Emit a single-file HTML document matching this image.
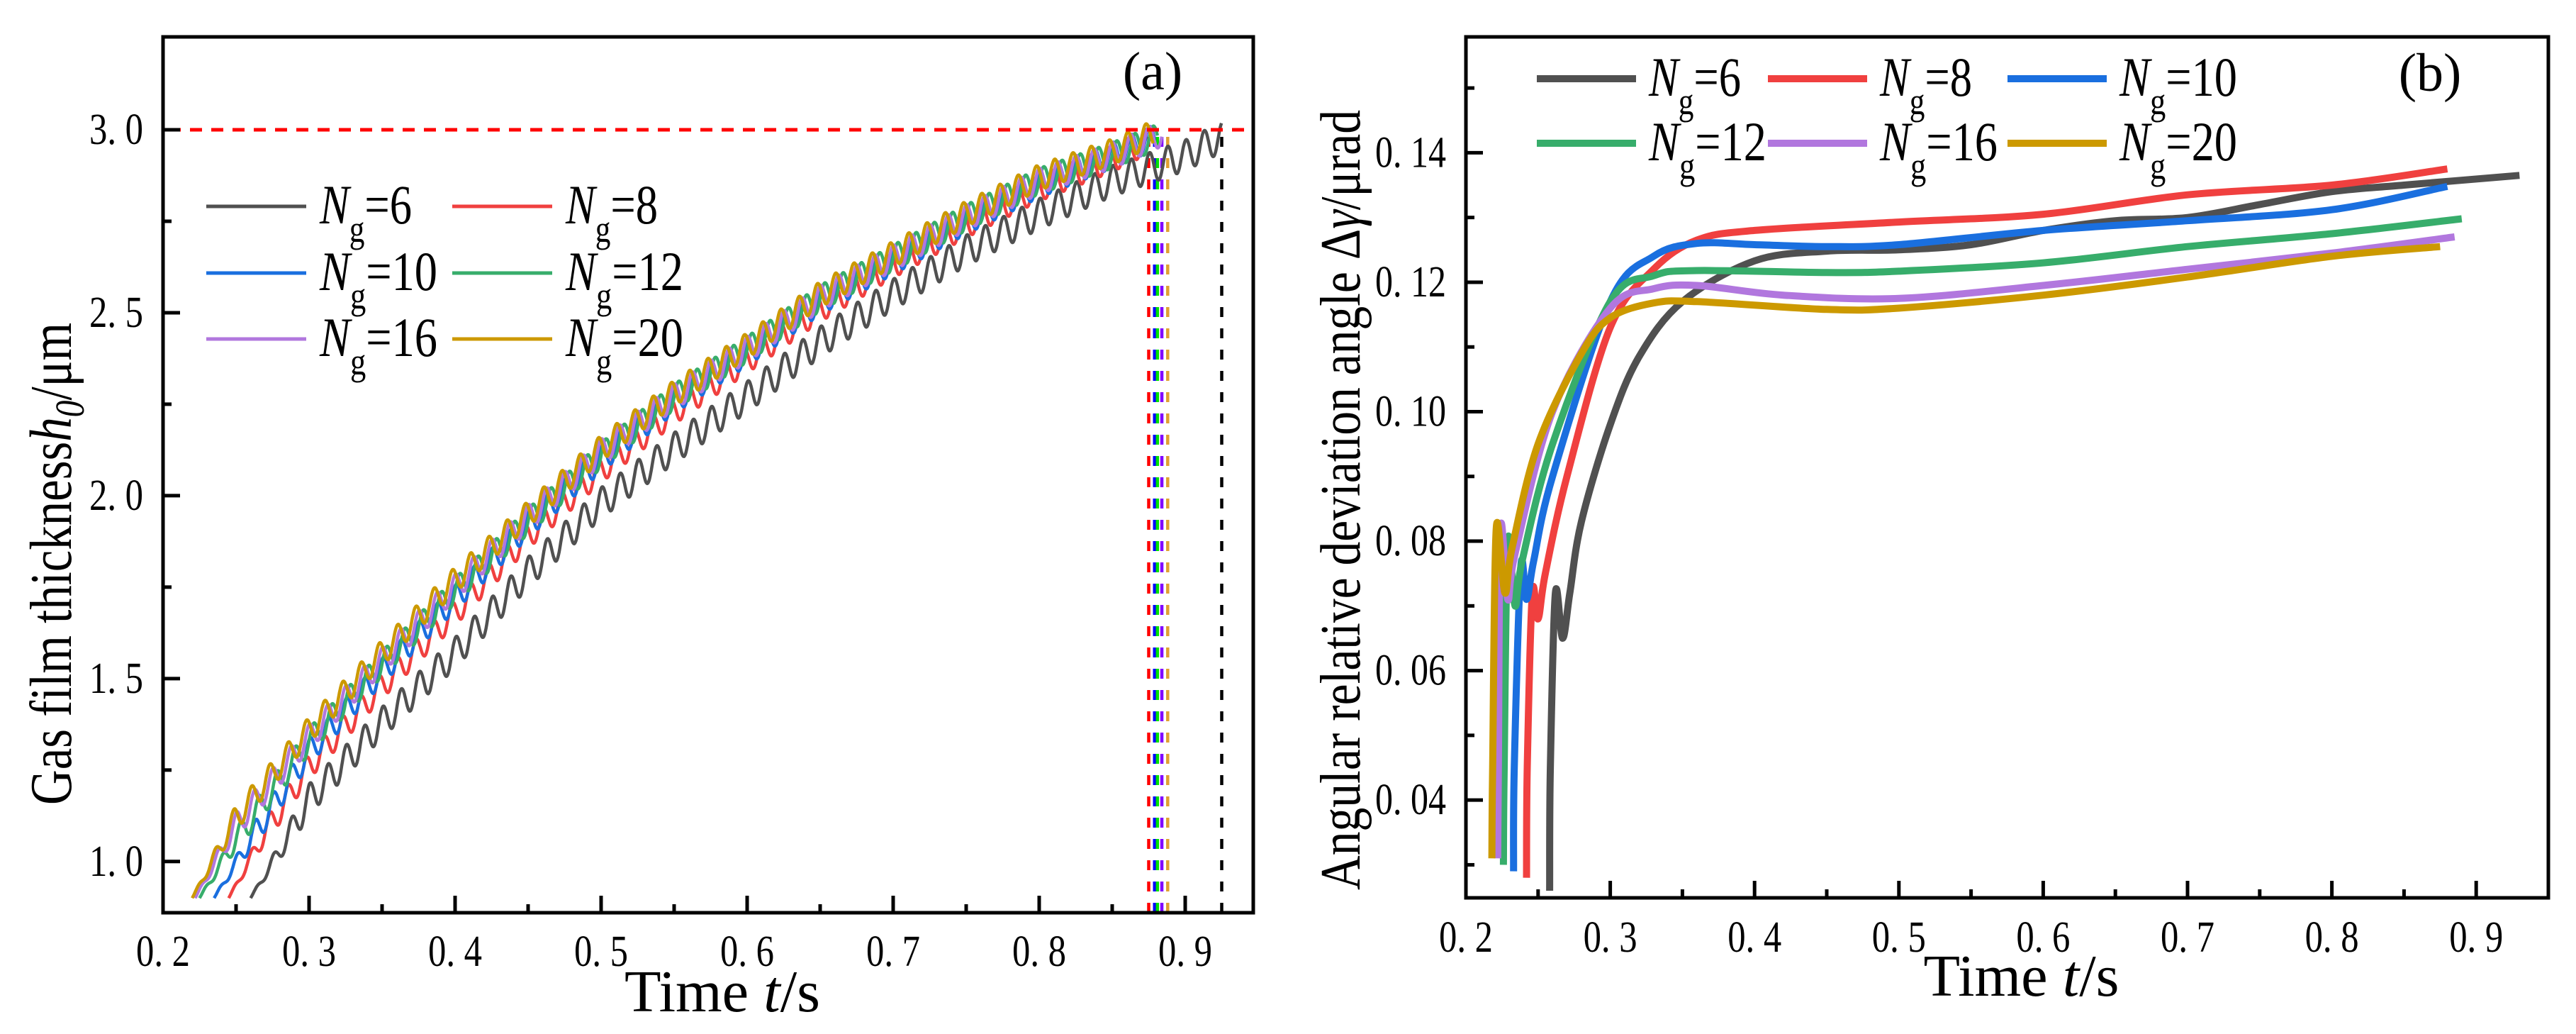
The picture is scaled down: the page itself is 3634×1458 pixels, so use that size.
<!DOCTYPE html>
<html><head><meta charset="utf-8">
<style>
html,body{margin:0;padding:0;background:#fff;}
svg{display:block;font-family:"Liberation Serif","Noto Serif CJK SC",serif;}
</style></head>
<body>
<svg id="fig" width="3634" height="1458" viewBox="0 0 3634 1458" xmlns="http://www.w3.org/2000/svg">
<rect width="3634" height="1458" fill="#fff"/>
<g id="pa"></g>
<g id="pb"></g>
</svg>
<script>
// ---------- Panel (a) data ----------
const aNames = ["Ng=6","Ng=8","Ng=10","Ng=12","Ng=16","Ng=20"];
const aColors = ["#505050","#f0403f","#1a6fdf","#37ad6b","#b177de","#cc9900"];
const aT6  = [0.26,0.28,0.30,0.35,0.40,0.45,0.50,0.55,0.60,0.65,0.70,0.75,0.80,0.85,0.90,0.925];
const aH6  = [0.90,1.03,1.17,1.38,1.57,1.79,1.98,2.13,2.27,2.42,2.55,2.67,2.77,2.86,2.93,2.98];
const aT8  = [0.245,0.27,0.30,0.35,0.40,0.45,0.50,0.55,0.60,0.65,0.70,0.75,0.80,0.85,0.875];
const aH8  = [0.90,1.08,1.26,1.48,1.68,1.89,2.07,2.23,2.37,2.51,2.63,2.74,2.84,2.92,2.97];
const aT10 = [0.235,0.26,0.30,0.35,0.40,0.45,0.50,0.55,0.60,0.65,0.70,0.75,0.80,0.85,0.879];
const aH10 = [0.90,1.06,1.30,1.52,1.72,1.92,2.10,2.26,2.39,2.53,2.64,2.75,2.85,2.93,2.98];
const aT12 = [0.225,0.25,0.30,0.35,0.40,0.45,0.50,0.55,0.60,0.65,0.70,0.75,0.80,0.85,0.881];
const aH12 = [0.90,1.06,1.33,1.54,1.74,1.93,2.11,2.27,2.40,2.54,2.65,2.76,2.86,2.93,2.98];
const aT16 = [0.222,0.25,0.30,0.35,0.40,0.45,0.50,0.55,0.60,0.65,0.70,0.75,0.80,0.85,0.884];
const aH16 = [0.90,1.10,1.34,1.55,1.75,1.94,2.12,2.27,2.40,2.54,2.65,2.76,2.86,2.93,2.99];
const aT20 = [0.220,0.25,0.30,0.35,0.40,0.45,0.50,0.55,0.60,0.65,0.70,0.75,0.80,0.85,0.878];
const aH20 = [0.90,1.12,1.36,1.57,1.77,1.95,2.13,2.28,2.41,2.55,2.66,2.77,2.87,2.94,2.99];
const aEndT = [0.925,0.875,0.879,0.881,0.884,0.888];
const aDashColors = ["#000000","#ff0000","#0000ff","#00e000","#8000ff","#e0a030"];
const aXTicks = ["0. 2","0. 3","0. 4","0. 5","0. 6","0. 7","0. 8","0. 9"];
const aXTickVals = [0.2,0.3,0.4,0.5,0.6,0.7,0.8,0.9];
const aYTicks = ["1. 0","1. 5","2. 0","2. 5","3. 0"];
const aYTickVals = [1.0,1.5,2.0,2.5,3.0];
const aRef = 3.0;

// ---------- Panel (b) data ----------
const bT6  = [0.258,0.2585,0.262,0.267,0.272,0.28,0.30,0.32,0.35,0.40,0.45,0.50,0.55,0.60,0.65,0.70,0.75,0.80,0.85,0.93];
const bY6  = [0.026,0.045,0.072,0.065,0.072,0.083,0.098,0.1085,0.117,0.1233,0.1248,0.125,0.1258,0.128,0.1295,0.130,0.132,0.134,0.135,0.1365];
const bT8  = [0.242,0.2425,0.246,0.250,0.255,0.27,0.30,0.33,0.36,0.40,0.50,0.60,0.70,0.80,0.88];
const bY8  = [0.028,0.045,0.072,0.068,0.075,0.090,0.113,0.122,0.1265,0.128,0.1293,0.1305,0.1335,0.135,0.1375];
const bT10 = [0.233,0.2335,0.238,0.242,0.247,0.26,0.30,0.33,0.36,0.40,0.45,0.50,0.60,0.70,0.80,0.88];
const bY10 = [0.029,0.045,0.076,0.071,0.077,0.090,0.117,0.124,0.126,0.1258,0.1255,0.1258,0.128,0.1295,0.1312,0.1348];
const bT12 = [0.226,0.2265,0.229,0.234,0.239,0.26,0.30,0.33,0.36,0.45,0.50,0.60,0.70,0.80,0.89];
const bY12 = [0.030,0.045,0.080,0.070,0.077,0.095,0.117,0.121,0.1218,0.1215,0.1217,0.123,0.1255,0.1275,0.1298];
const bT16 = [0.222,0.2225,0.224,0.229,0.234,0.26,0.30,0.33,0.36,0.42,0.50,0.60,0.70,0.80,0.885];
const bY16 = [0.031,0.045,0.082,0.071,0.078,0.100,0.116,0.119,0.1195,0.118,0.1175,0.1195,0.122,0.1245,0.127];
const bT20 = [0.218,0.2185,0.221,0.227,0.232,0.25,0.28,0.30,0.33,0.36,0.45,0.50,0.60,0.70,0.80,0.875];
const bY20 = [0.031,0.045,0.082,0.072,0.079,0.095,0.109,0.1145,0.1168,0.117,0.1158,0.116,0.118,0.1208,0.124,0.1255];
const bXTicks = ["0. 2","0. 3","0. 4","0. 5","0. 6","0. 7","0. 8","0. 9"];
const bXTickVals = [0.2,0.3,0.4,0.5,0.6,0.7,0.8,0.9];
const bYTicks = ["0. 04","0. 06","0. 08","0. 10","0. 12","0. 14"];
const bYTickVals = [0.04,0.06,0.08,0.10,0.12,0.14];

const NS = "http://www.w3.org/2000/svg";
function mk(parent, tag, attrs){ const e=document.createElementNS(NS,tag); for(const k in attrs) e.setAttribute(k,attrs[k]); parent.appendChild(e); return e; }

function linInterp(ts, vs, t){
  if(t<=ts[0]) return vs[0];
  for(let i=1;i<ts.length;i++){ if(t<=ts[i]){ const f=(t-ts[i-1])/(ts[i]-ts[i-1]); return vs[i-1]+f*(vs[i]-vs[i-1]); } }
  return vs[vs.length-1];
}
function smoothPath(pts){
  let d="M"+pts[0][0].toFixed(1)+","+pts[0][1].toFixed(1);
  for(let i=0;i<pts.length-1;i++){
    const p0=pts[Math.max(0,i-1)],p1=pts[i],p2=pts[i+1],p3=pts[Math.min(pts.length-1,i+2)];
    const c1=[p1[0]+(p2[0]-p0[0])/6,p1[1]+(p2[1]-p0[1])/6];
    const c2=[p2[0]-(p3[0]-p1[0])/6,p2[1]-(p3[1]-p1[1])/6];
    d+=" C"+c1[0].toFixed(1)+","+c1[1].toFixed(1)+" "+c2[0].toFixed(1)+","+c2[1].toFixed(1)+" "+p2[0].toFixed(1)+","+p2[1].toFixed(1);
  }
  return d;
}
const LEG_FS=78, TICK_FS=62;
function legLen(n){ return n.split('=')[1].length>1 ? 166 : 130; }

// ================= Panel A =================
(function(){
  const g=document.getElementById('pa');
  const L=230,R=1768,T=52,B=1287;
  const x0=0.2,x1=0.9466,y0=0.86,y1=3.254;
  const X=v=>L+(v-x0)/(x1-x0)*(R-L);
  const Y=v=>B-(v-y0)/(y1-y0)*(B-T);
  const clip=mk(g,'clipPath',{id:'clipA'}); mk(clip,'rect',{x:L,y:T,width:R-L,height:B-T});
  const series=[[aT6,aH6],[aT8,aH8],[aT10,aH10],[aT12,aH12],[aT16,aH16],[aT20,aH20]];
  aEndT.forEach((t,i)=>{
    const l=mk(g,'line',{x1:X(t),x2:X(t),y1:Y(aRef)+10,y2:B,stroke:aDashColors[i],'stroke-width':4.5,'stroke-dasharray':'14,16'});
    
    
  });
  const cg=mk(g,'g',{'clip-path':'url(#clipA)'});
  series.forEach((s,i)=>{
    const ts=s[0],hs=s[1];
    const tStart=ts[0],tEnd=ts[ts.length-1];
    const period=0.0125; const pts=[];
    for(let t=tStart;t<=tEnd;t+=0.0004){
      const base=linInterp(ts,hs,t);
      const amp=Math.min(i===0?0.042:0.035,(t-tStart)*1.2);
      pts.push([X(t),Y(base+amp*Math.sin(2*Math.PI*(t-tStart)/period))]);
    }
    let d="M"+pts.map(p=>p[0].toFixed(1)+","+p[1].toFixed(1)).join(" L");
    const p=mk(cg,'path',{d:d,fill:'none',stroke:aColors[i],'stroke-width':4.5,'stroke-linejoin':'round'});
    
    
  });
  const ref=mk(g,'line',{x1:L+8,x2:R,y1:Y(aRef),y2:Y(aRef),stroke:'#ff0000','stroke-width':5,'stroke-dasharray':'17,13'});
  
  
  const fr=mk(g,'rect',{x:L,y:T,width:R-L,height:B-T,fill:'none',stroke:'#000','stroke-width':5});
  
  
  for(let v=0.2;v<=0.9401;v+=0.05){
    const major=Math.abs(v*10-Math.round(v*10))<1e-6;
    mk(g,'line',{x1:X(v),x2:X(v),y1:B,y2:B-(major?24:12),stroke:'#000','stroke-width':5});
  }
  for(let v=1.0;v<=3.2;v+=0.25){
    const major=Math.abs(v*2-Math.round(v*2))<1e-6;
    mk(g,'line',{x1:L,x2:L+(major?24:12),y1:Y(v),y2:Y(v),stroke:'#000','stroke-width':5});
  }
  aXTickVals.forEach((v,i)=>{
    const t=mk(g,'text',{x:X(v),y:1362,'font-size':TICK_FS,'text-anchor':'middle',textLength:76,lengthAdjust:'spacingAndGlyphs'}); t.textContent=aXTicks[i];
    
    
  });
  aYTickVals.forEach((v,i)=>{
    const t=mk(g,'text',{x:202,y:Y(v)+20,'font-size':TICK_FS,'text-anchor':'end',textLength:76,lengthAdjust:'spacingAndGlyphs'}); t.textContent=aYTicks[i];
    
    
  });
  const xt=mk(g,'text',{x:(L+R)/2+20,y:1426,'font-size':84,'text-anchor':'middle',textLength:276,lengthAdjust:'spacingAndGlyphs'});
  xt.innerHTML='Time <tspan font-style="italic">t</tspan>/s';
  
  
  const yt=mk(g,'text',{x:0,y:0,'font-size':84,'text-anchor':'middle',transform:'translate(100,795) rotate(-90)',textLength:680,lengthAdjust:'spacingAndGlyphs'});
  yt.innerHTML='Gas film thickness<tspan font-style="italic">h</tspan><tspan font-style="italic" font-size="58" dy="18">0</tspan><tspan dy="-18">/μm</tspan>';
  
  
  const pl=mk(g,'text',{x:1626,y:126,'font-size':76,'text-anchor':'middle'}); pl.textContent='(a)';
  
  
  const lx=[291,638], ly=[291,385,478];
  aNames.forEach((n,i)=>{
    const c=i%2,r=Math.floor(i/2);
    const lg=mk(g,'g',{});
    
    
    mk(lg,'line',{x1:lx[c],x2:lx[c]+141,y1:ly[r],y2:ly[r],stroke:aColors[i],'stroke-width':5});
    const t=mk(lg,'text',{x:lx[c]+160,y:ly[r]+24,'font-size':LEG_FS,textLength:legLen(n),lengthAdjust:'spacingAndGlyphs'});
    t.innerHTML='<tspan font-style="italic">N</tspan><tspan font-size="54" dy="26">g</tspan><tspan dy="-26">='+n.split('=')[1]+'</tspan>';
  });
})();

// ================= Panel B =================
(function(){
  const g=document.getElementById('pb');
  const L=2068,R=3595,T=52,B=1266;
  const x0=0.2,x1=0.95,y0=0.0249,y1=0.1579;
  const X=v=>L+(v-x0)/(x1-x0)*(R-L);
  const Y=v=>B-(v-y0)/(y1-y0)*(B-T);
  const clip=mk(g,'clipPath',{id:'clipB'}); mk(clip,'rect',{x:L,y:T,width:R-L,height:B-T});
  const cg=mk(g,'g',{'clip-path':'url(#clipB)'});
  const series=[[bT6,bY6],[bT8,bY8],[bT10,bY10],[bT12,bY12],[bT16,bY16],[bT20,bY20]];
  series.forEach((s,i)=>{
    const pts=s[0].map((t,k)=>[X(t),Y(s[1][k])]);
    const p=mk(cg,'path',{d:smoothPath(pts),fill:'none',stroke:aColors[i],'stroke-width':10,'stroke-linejoin':'round'});
    
    
  });
  const fr=mk(g,'rect',{x:L,y:T,width:R-L,height:B-T,fill:'none',stroke:'#000','stroke-width':5});
  
  
  for(let v=0.2;v<=0.9401;v+=0.05){
    const major=Math.abs(v*10-Math.round(v*10))<1e-6;
    mk(g,'line',{x1:X(v),x2:X(v),y1:B,y2:B-(major?24:12),stroke:'#000','stroke-width':5});
  }
  for(let v=0.03;v<=0.1561;v+=0.01){
    const major=Math.abs(v*50-Math.round(v*50))<1e-6;
    mk(g,'line',{x1:L,x2:L+(major?24:12),y1:Y(v),y2:Y(v),stroke:'#000','stroke-width':5});
  }
  bXTickVals.forEach((v,i)=>{
    const t=mk(g,'text',{x:X(v),y:1342,'font-size':TICK_FS,'text-anchor':'middle',textLength:76,lengthAdjust:'spacingAndGlyphs'}); t.textContent=bXTicks[i];
    
    
  });
  bYTickVals.forEach((v,i)=>{
    const t=mk(g,'text',{x:2040,y:Y(v)+20,'font-size':TICK_FS,'text-anchor':'end',textLength:100,lengthAdjust:'spacingAndGlyphs'}); t.textContent=bYTicks[i];
    
    
  });
  const xt=mk(g,'text',{x:(L+R)/2+20,y:1404,'font-size':84,'text-anchor':'middle',textLength:276,lengthAdjust:'spacingAndGlyphs'});
  xt.innerHTML='Time <tspan font-style="italic">t</tspan>/s';
  
  
  const yt=mk(g,'text',{x:0,y:0,'font-size':80,'text-anchor':'middle',transform:'translate(1918,705) rotate(-90)',textLength:1100,lengthAdjust:'spacingAndGlyphs'});
  yt.innerHTML='Angular relative deviation angle Δ<tspan font-style="italic">γ</tspan>/μrad';
  
  
  const pl=mk(g,'text',{x:3428,y:128,'font-size':76,'text-anchor':'middle'}); pl.textContent='(b)';
  
  
  const lx=[2168,2494,2832], ly=[111,202];
  aNames.forEach((n,i)=>{
    const c=i%3,r=Math.floor(i/3);
    const lg=mk(g,'g',{});
    
    
    mk(lg,'line',{x1:lx[c],x2:lx[c]+140,y1:ly[r],y2:ly[r],stroke:aColors[i],'stroke-width':10});
    const t=mk(lg,'text',{x:lx[c]+158,y:ly[r]+24,'font-size':LEG_FS,textLength:legLen(n),lengthAdjust:'spacingAndGlyphs'});
    t.innerHTML='<tspan font-style="italic">N</tspan><tspan font-size="54" dy="26">g</tspan><tspan dy="-26">='+n.split('=')[1]+'</tspan>';
  });
})();
</script>
</body></html>
